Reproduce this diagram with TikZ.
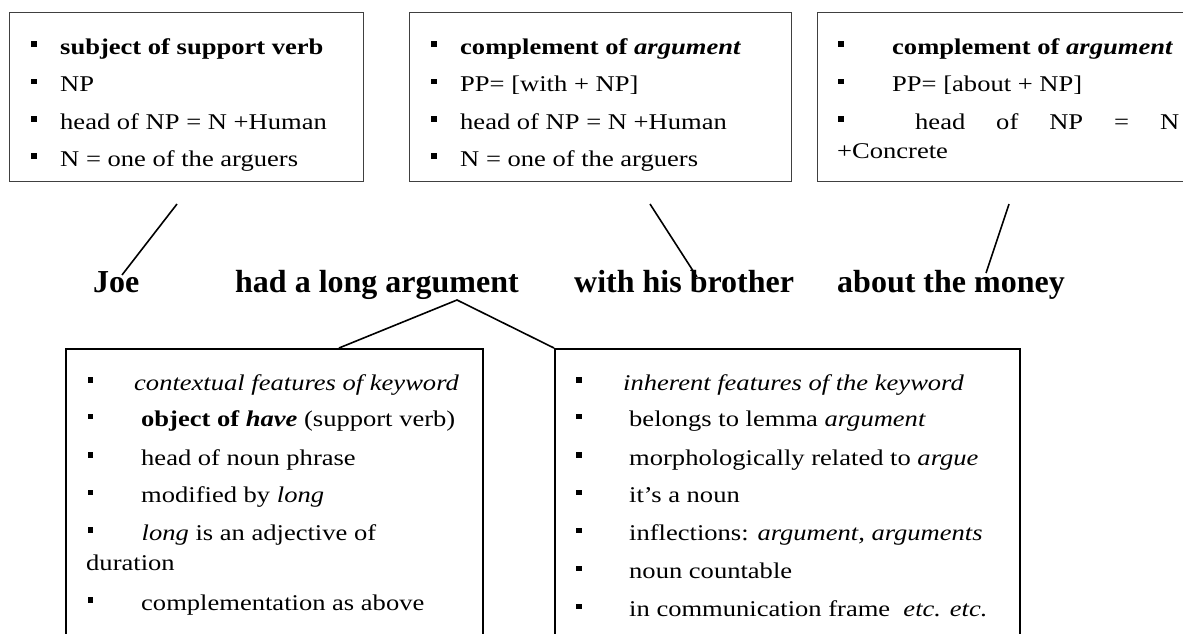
\documentclass[tikz,border=0pt]{standalone}
\usepackage{fontspec}
\setmainfont{Liberation Serif}
\newfontfamily\boxfont[FakeStretch=1.18]{Liberation Serif}
\begin{document}
\begin{tikzpicture}[x=1pt,y=-1pt,
  topbox/.style={draw=black!75, line width=1.1pt, inner sep=0pt, anchor=north west},
  lowbox/.style={draw=black, line width=2pt, inner sep=0pt, anchor=north west},
  item/.style={anchor=base west, inner sep=0pt, font=\boxfont\fontsize{22.5}{27}\selectfont},
  word/.style={anchor=base west, inner sep=0pt, font=\bfseries\fontsize{32}{38}\selectfont},
  link/.style={line width=1.6pt, black},
  bullet/.style={fill=black}]
\useasboundingbox (0,0) rectangle (1183,633);
\clip (0,0) rectangle (1183,633);

% bullet square: centred at x, 10pt above the baseline y
\newcommand{\sqbul}[2]{\fill[bullet] (#1-2.75,#2-12.75) rectangle ++(5.5,5.5);}

% ---- upper boxes ----
\node[topbox, minimum width=354pt, minimum height=169pt] (boxA) at (9,12) {};
\node[topbox, minimum width=382pt, minimum height=169pt] (boxB) at (409,12) {};
\node[topbox, minimum width=400pt, minimum height=169pt] (boxC) at (817,12) {};

% subject box
\foreach \yy in {54,91.5,129,166} {\sqbul{34.2}{\yy}}
\node[item] (a1) at (60,54)   {\textbf{subject of support verb}};
\node[item] (a2) at (60,91.5) {NP};
\node[item] (a3) at (60,129)  {head of NP = N +Human};
\node[item] (a4) at (60,166)  {N = one of the arguers};

% "with" complement box
\foreach \yy in {54,91.5,129,166} {\sqbul{434.2}{\yy}}
\node[item] (b1) at (460,54)   {\textbf{complement of \textit{argument}}};
\node[item] (b2) at (460,91.5) {PP= [with + NP]};
\node[item] (b3) at (460,129)  {head of NP = N +Human};
\node[item] (b4) at (460,166)  {N = one of the arguers};

% "about" complement box
\foreach \yy in {54,91.5,129} {\sqbul{841}{\yy}}
\node[item] (c1) at (892,54)   {\textbf{complement of \textit{argument}}};
\node[item] (c2) at (892,91.5) {PP= [about + NP]};
\node[item] (c3) at (915,129)  {\hbox to 264pt{head\hfil of\hfil NP\hfil =\hfil N}};
\node[item] (c4) at (837,158)  {+Concrete};

% ---- the sentence ----
\node[word] (joe) at (93,292)  {Joe};
\node[word] (had) at (235,292) {had a long argument};
\node[word] (wth) at (574,292) {with his brother};
\node[word] (abt) at (837,292) {about the money};

% ---- lower boxes ----
\node[lowbox, minimum width=417pt, minimum height=320pt] (boxL) at (65,348) {};
\node[lowbox, minimum width=465pt, minimum height=320pt] (boxR) at (554,348) {};

% contextual features
\foreach \yy in {390,426.7,465,502.3,540,610} {\sqbul{90.3}{\yy}}
\node[item] (l1) at (134,390)   {\textit{contextual features of keyword}};
\node[item] (l2) at (141,426.7) {\textbf{object of \textit{have}} (support verb)};
\node[item] (l3) at (141,465)   {head of noun phrase};
\node[item] (l4) at (141,502.3) {modified by \textit{long}};
\node[item] (l5) at (141.5,540) {\textit{long} is an adjective of};
\node[item] (l6) at (86,570.7)  {duration};
\node[item] (l7) at (141,610)   {complementation as above};

% inherent features
\foreach \yy in {390,426.7,465,502.3,540.5,578.3,616.7} {\sqbul{579}{\yy}}
\node[item] (r1) at (623,390)   {\textit{inherent features of the keyword}};
\node[item] (r2) at (629,426.7) {belongs to lemma \textit{argument}};
\node[item] (r3) at (629,465)   {morphologically related to \textit{argue}};
\node[item] (r4) at (629,502.3) {it’s a noun};
\node[item] (r5) at (629,540.5) {inflections: \textit{argument, arguments}};
\node[item] (r6) at (629,578.3) {noun countable};
\node[item] (r7) at (629,616.7) {in communication frame\ \ \textit{etc. etc.}};

% ---- connectors ----
\coordinate (joeTop) at (177,204);
\coordinate (joeEnd) at (122,275);
\coordinate (wthTop) at (650,204);
\coordinate (wthEnd) at (697,277);
\coordinate (abtTop) at (1009,204);
\coordinate (abtEnd) at (986,273);
\coordinate (apex)   at (457,300);
\coordinate (boxLtop) at (339,348);

\draw[link] (joeTop) -- (joeEnd);
\draw[link] (wthTop) -- (wthEnd);
\draw[link] (abtTop) -- (abtEnd);
\draw[link, line join=miter] (boxLtop) -- (apex) -- (boxR.north west);
\end{tikzpicture}
\end{document}
